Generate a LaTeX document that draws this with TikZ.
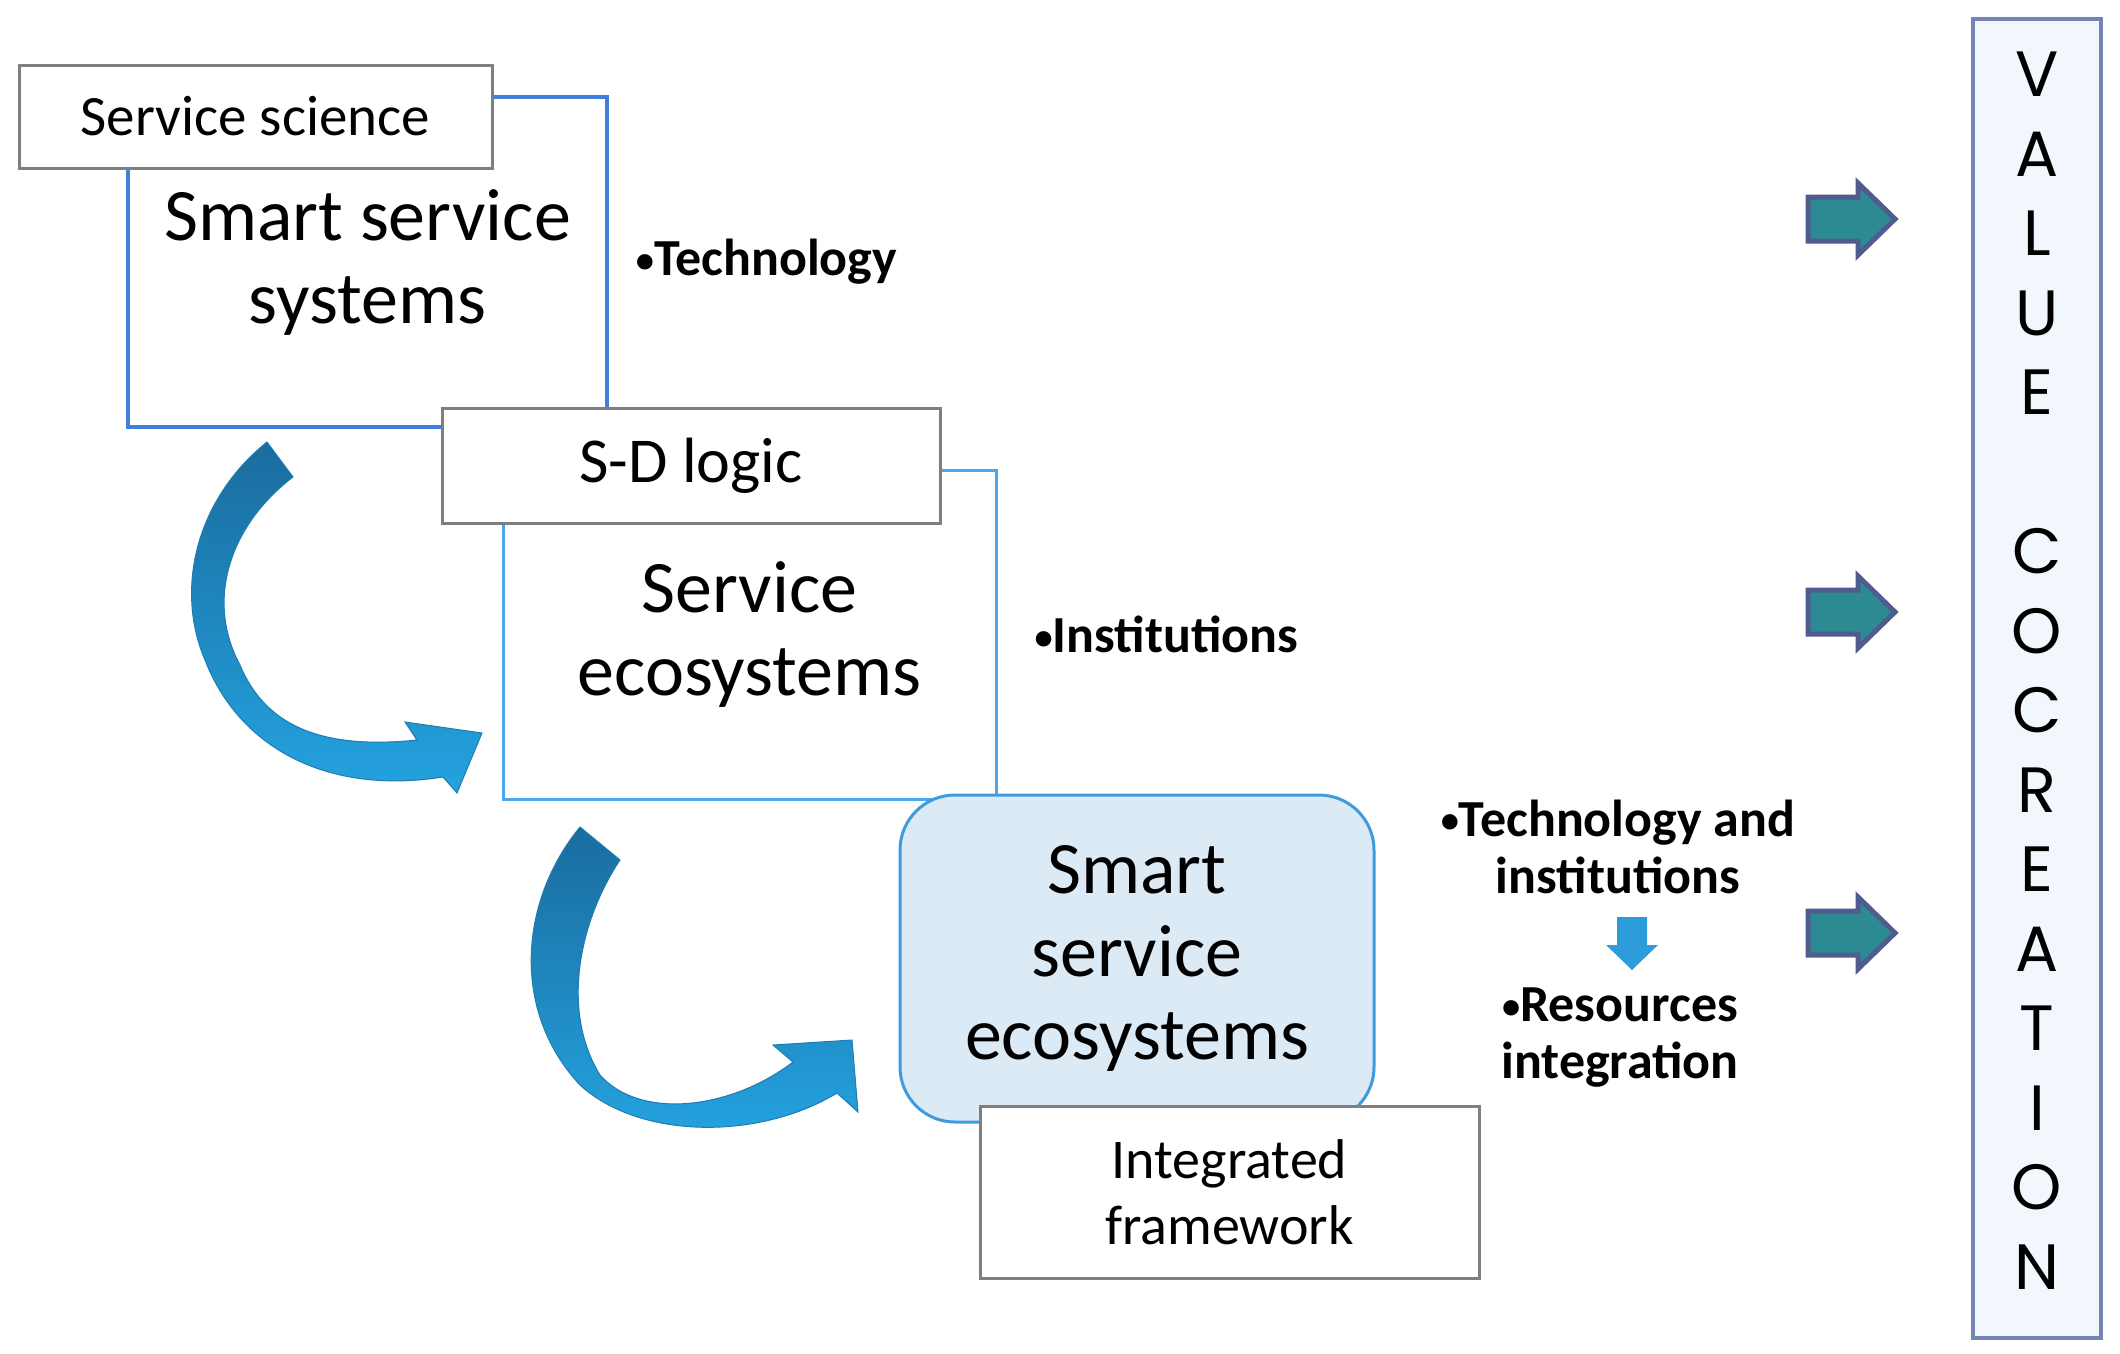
\documentclass[tikz,border=0pt]{standalone}
\usepackage{fontspec}
\setmainfont{Carlito}
\newfontfamily\valuefont{Poppins}
\usetikzlibrary{positioning}
\definecolor{greyline}{HTML}{7F7F7F}
\definecolor{sysblue}{HTML}{3F7FDB}
\definecolor{ecoblue}{HTML}{4AA8EC}
\definecolor{roundblue}{HTML}{3D9BE0}
\definecolor{roundfill}{HTML}{DCEAF6}
\definecolor{valuefill}{HTML}{F1F7FD}
\definecolor{valueedge}{HTML}{7384B5}
\definecolor{tealfill}{HTML}{2B8A92}
\definecolor{tealedge}{HTML}{505C8E}
\definecolor{downblue}{HTML}{2D9CDB}
\definecolor{curvetop}{HTML}{1A6C9E}
\definecolor{curvebot}{HTML}{24A3E0}
\newcommand{\bulletdot}{\raisebox{0.06em}{\scalebox{0.7}{•}}}
\begin{document}
\begin{tikzpicture}[x=1pt, y=-1pt,
    labelbox/.style={draw=greyline, line width=3pt, fill=white, inner sep=0pt, align=center},
    frame/.style={line width=3.5pt, inner sep=0pt, align=center, font=\fontsize{74}{83}\selectfont},
    bullettext/.style={inner sep=0pt, align=center, font=\bfseries\fontsize{52}{57}\selectfont},
    curvearrow/.style={top color=curvetop, bottom color=curvebot, draw=curvetop!70!curvebot, line width=1pt},
    tealarrow/.style={fill=tealfill, draw=tealedge, line width=5pt, line join=miter}]
    \useasboundingbox (0,0) rectangle (2120,1353);
    \node (sysframe) [frame, draw=sysblue, minimum width=479, minimum height=330] at (367.5,262) {Smart service\\systems};
    \node (ecoframe) [frame, draw=ecoblue, line width=3pt, minimum width=493, minimum height=329] at (749.5,634.5) {Service\\ecosystems};
    \node (techtxt) [bullettext, right=27pt of sysframe] {\bulletdot Technology};
    \node (insttxt) [bullettext, right=37pt of ecoframe] {\bulletdot Institutions};
    \path[curvearrow] (267,442) -- (293,477) .. controls (230,525) and (205,600) .. (240,665)
        .. controls (265,725) and (320,750) .. (417,740) -- (405,722) -- (482,733) -- (457,793) -- (443,777)
        .. controls (330,795) and (240,750) .. (205,660) .. controls (175,590) and (195,500) .. (267,442) -- cycle;
    \path[curvearrow] (580,827) -- (620,860) .. controls (580,920) and (560,1010) .. (600,1075)
        .. controls (640,1120) and (730,1110) .. (793,1062) -- (773,1045) -- (852,1040) -- (858,1112) -- (837,1093)
        .. controls (760,1140) and (640,1140) .. (580,1085) .. controls (510,1010) and (520,900) .. (580,827) -- cycle;
    \node (smarteco) [frame, draw=roundblue, fill=roundfill, line width=3pt, rounded corners=55pt, minimum width=474, minimum height=327] at (1137,958.5) {Smart\\service\\ecosystems};
    \node (scibox) [labelbox, minimum width=473, minimum height=103, font=\fontsize{57}{66}\selectfont] at (255.5,116.5) {Service science};
    \node (sdbox) [labelbox, minimum width=498, minimum height=115, font=\fontsize{64}{72}\selectfont] at (691,465.5) {S-D logic};
    \node (intbox) [labelbox, minimum width=499, minimum height=172, font=\fontsize{56}{66}\selectfont] at (1229.5,1192) {Integrated\\framework};
    \node (techinst) [bullettext] at (1618,846.5) {\bulletdot Technology and\\institutions};
    \node (resint) [bullettext] at (1620,1038) {\bulletdot Resources\\integration};
    \fill[downblue] (1617,917) -- (1647,917) -- (1647,945) -- (1658,945) -- (1632,970) -- (1606,945) -- (1617,945) -- cycle;
    \foreach \y in {219,612,933}
        \draw[tealarrow] (1808,\y-22) -- (1858,\y-22) -- (1858,\y-36) -- (1895,\y) -- (1858,\y+36) -- (1858,\y+22) -- (1808,\y+22) -- cycle;
    \node (valuebox) [draw=valueedge, fill=valuefill, line width=4pt, inner sep=0pt, minimum width=128, minimum height=1319, align=center, font=\valuefont\fontsize{64}{79.5}\selectfont] at (2037,678.5) {};
    \node (valuetxt) [inner sep=0pt, align=center, font=\valuefont\fontsize{64}{79.5}\selectfont] at (2037,670.5) {V\\A\\L\\U\\E\\[79.5pt]C\\O\\C\\R\\E\\A\\T\\I\\O\\N};
\end{tikzpicture}
\end{document}
